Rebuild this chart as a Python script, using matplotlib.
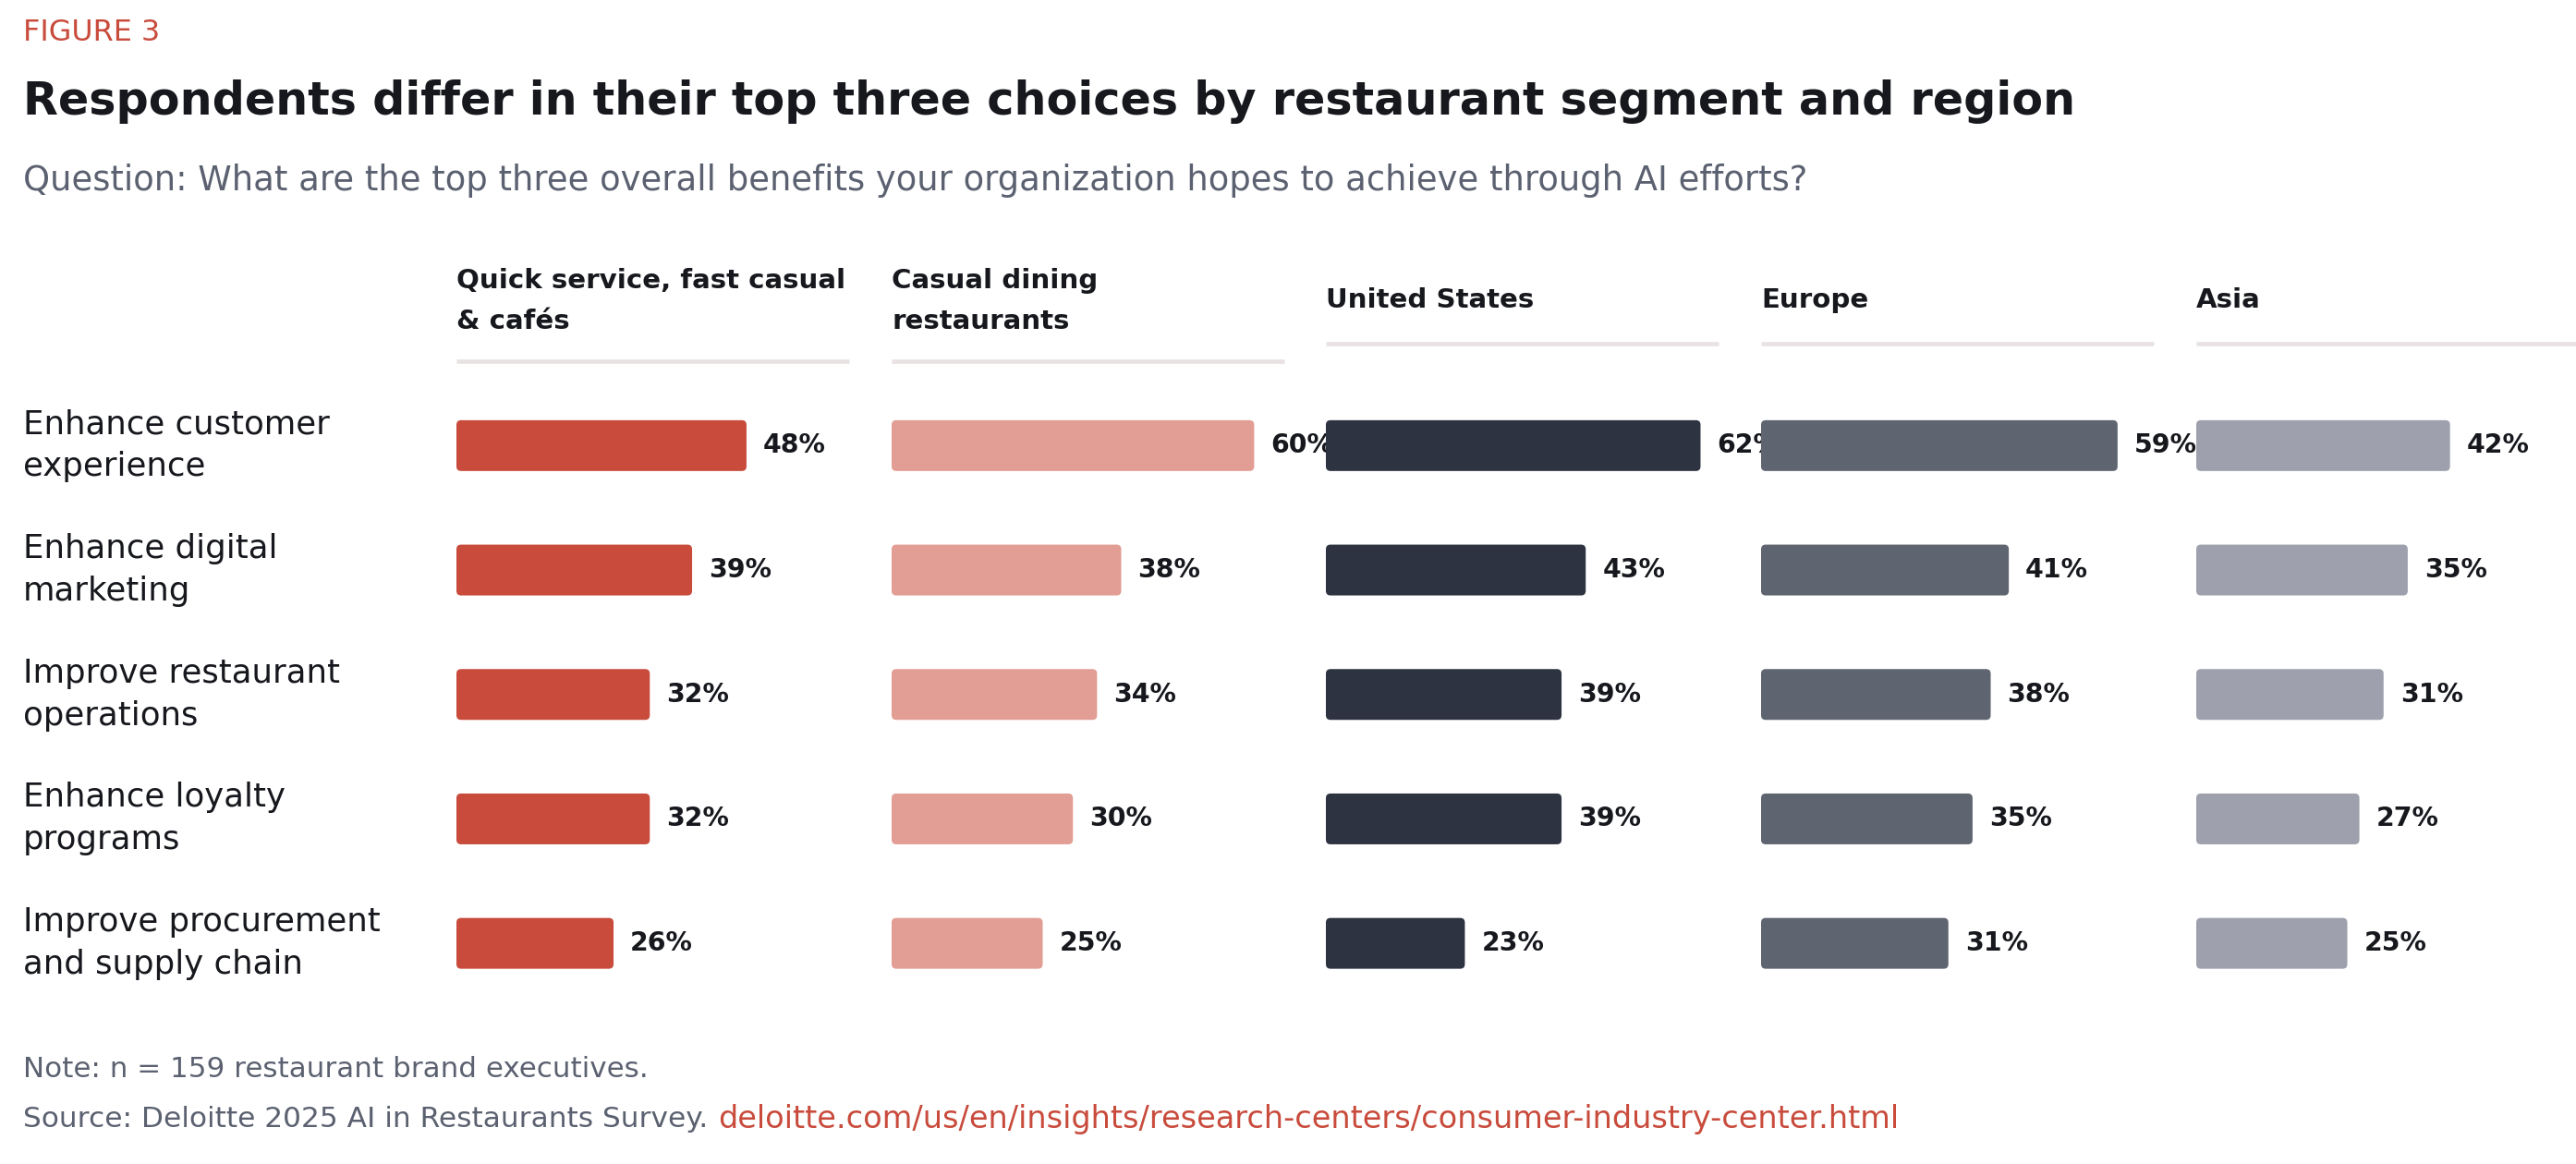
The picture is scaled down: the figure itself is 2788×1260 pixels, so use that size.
import numpy as np
import matplotlib
matplotlib.use('Agg')
import matplotlib.pyplot as plt
from matplotlib.patches import FancyBboxPatch
from matplotlib.lines import Line2D

# data
segments = ['Quick service, fast casual\n& cafés', 'Casual dining\nrestaurants',
            'United States', 'Europe', 'Asia']
benefits = ['Enhance customer\nexperience', 'Enhance digital\nmarketing',
            'Improve restaurant\noperations', 'Enhance loyalty\nprograms',
            'Improve procurement\nand supply chain']
qsr = [48, 39, 32, 32, 26]
casual = [60, 38, 34, 30, 25]
us = [62, 43, 39, 39, 23]
europe = [59, 41, 38, 35, 31]
asia = [42, 35, 31, 27, 25]
series = [qsr, casual, us, europe, asia]
colors = ['#C84B3C', '#E29E95', '#2D3340', '#5F6570', '#9EA1AD']

figure_label = 'FIGURE 3'
title = 'Respondents differ in their top three choices by restaurant segment and region'
subtitle = 'Question: What are the top three overall benefits your organization hopes to achieve through AI efforts?'
note = 'Note: n = 159 restaurant brand executives.'
source = 'Source: Deloitte 2025 AI in Restaurants Survey.'
link = 'deloitte.com/us/en/insights/research-centers/consumer-industry-center.html'

BLACK = '#16181D'
GRAY = '#5B6170'
RED = '#C84B3C'
LINE = '#E9E2E2'

W, H = 2788, 1260
plt.rcParams['font.family'] = ['DejaVu Sans']
fig = plt.figure(figsize=(W / 100, H / 100), dpi=100)
fig.patch.set_facecolor('white')
renderer = fig.canvas.get_renderer()


def fx(px):
    return px / W


def fy(py):  # py measured from top
    return 1 - py / H


def put(x, y, s, size, **kw):
    return fig.text(fx(x), fy(y), s, fontsize=size, va='center', ha='left', **kw)


def fit(t, width):
    bb = t.get_window_extent(renderer)
    t.set_fontsize(t.get_fontsize() * width / bb.width)
    return t.get_fontsize()


# layout in pixels
left = 25
col_x = [494, 965, 1435, 1906, 2377]
col_w = 425
px_per_pct = 6.54
row_top = 415
row_step = 134.7
bar_h_px = 55

# header texts
t = put(left, 36, figure_label, 16, color=RED)
fit(t, 148)
t = put(left, 110, title, 34, color=BLACK, fontweight='bold')
fit(t, 2226)
t = put(left, 196, subtitle, 22, color=GRAY)
fit(t, 1929)
t = put(left, 1157, note, 17, color=GRAY)
fit(t, 677)
t = put(left, 1211, source, 17, color=GRAY)
fit(t, 743)
t = put(777, 1211, link, 17, color=RED)
fit(t, 1285)

# sizes for column headers, row labels, values
probe = put(0, 0, 'Quick service, fast casual', 17, fontweight='bold')
head_size = fit(probe, 421)
probe.remove()
probe = put(0, 0, 'Improve procurement', 17)
lab_size = fit(probe, 386)
probe.remove()
probe = put(0, 0, '48%', 17, fontweight='bold')
val_size = fit(probe, 68)
probe.remove()

# row labels
for i, lab in enumerate(benefits):
    yc = row_top + row_step * (i + 0.5)
    lines = lab.split('\n')
    for k, ln in enumerate(lines):
        put(left, yc + (k - (len(lines) - 1) / 2) * 46, ln, lab_size, color=BLACK)

# column headers and rules
for j, seg in enumerate(segments):
    lines = seg.split('\n')
    if len(lines) == 2:
        ys = [304, 348]
        rule_y = 391
    else:
        ys = [325]
        rule_y = 372
    for ln, yy in zip(lines, ys):
        put(col_x[j], yy, ln, head_size, color=BLACK, fontweight='bold')
    fig.add_artist(Line2D([fx(col_x[j]), fx(col_x[j] + col_w)], [fy(rule_y), fy(rule_y)],
                          transform=fig.transFigure, color=LINE, lw=3.4,
                          solid_capstyle='butt'))

# bar panels, one axes per column (later panels sit on top of earlier labels)
xmax = col_w / px_per_pct
asp = px_per_pct / row_step
rad = 5 / px_per_pct
for j, vals in enumerate(series):
    ax = fig.add_axes([fx(col_x[j]), fy(row_top + 5 * row_step), fx(col_w), 5 * row_step / H])
    ax.set_facecolor('none')
    ax.set_xlim(0, xmax)
    ax.set_ylim(4.5, -0.5)
    ax.set_axis_off()
    bars = ax.barh(np.arange(len(vals)), vals, height=bar_h_px / row_step, color=colors[j])
    for b in bars:
        x0, y0 = b.get_x(), b.get_y()
        w, h = b.get_width(), b.get_height()
        b.remove()
        ax.add_patch(FancyBboxPatch((x0, y0), w, h,
                                    boxstyle='round,pad=0,rounding_size=%f' % rad,
                                    mutation_aspect=asp, facecolor=colors[j],
                                    edgecolor='none'))
    for i, v in enumerate(vals):
        ax.text(v + 18 / px_per_pct, i, '%d%%' % v, va='center', ha='left',
                fontsize=val_size, fontweight='bold', color=BLACK, clip_on=False)

fig.savefig('out.png', dpi=100, facecolor='white')
